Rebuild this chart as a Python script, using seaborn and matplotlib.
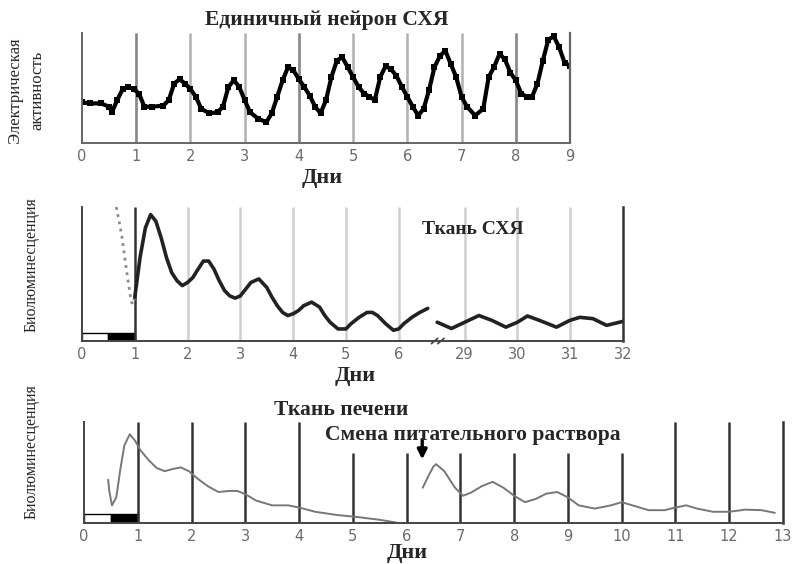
import matplotlib
matplotlib.use("Agg")
import matplotlib.pyplot as plt
import seaborn as sns
import numpy as np

# figure size in pixels
W, H = 795, 564

# single SCN neuron, electrical activity (relative units, axis = 0, top = 1)
neuron_days = [0, 0.15, 0.35, 0.5, 0.55, 0.65, 0.75, 0.85, 0.95,
               1.05, 1.15, 1.3, 1.5, 1.6, 1.7, 1.8, 1.9,
               2.0, 2.1, 2.2, 2.35, 2.5, 2.6, 2.7, 2.8, 2.9,
               3.0, 3.1, 3.25, 3.4, 3.5, 3.6, 3.7, 3.8, 3.9,
               4.0, 4.1, 4.2, 4.3, 4.4, 4.5, 4.6, 4.7, 4.8, 4.9,
               5.0, 5.1, 5.2, 5.3, 5.4, 5.5, 5.6, 5.7, 5.8, 5.9,
               6.0, 6.1, 6.2, 6.3, 6.4, 6.5, 6.6, 6.7, 6.8, 6.9,
               7.0, 7.1, 7.25, 7.4, 7.5, 7.6, 7.7, 7.8, 7.9,
               8.0, 8.1, 8.2, 8.3, 8.4, 8.5, 8.6, 8.7, 8.8, 8.9, 9.0]
neuron_activity = [0.37, 0.36, 0.36, 0.33, 0.28, 0.39, 0.49, 0.51, 0.49,
                   0.45, 0.33, 0.33, 0.34, 0.39, 0.54, 0.58, 0.54,
                   0.49, 0.42, 0.31, 0.27, 0.28, 0.33, 0.51, 0.57, 0.51,
                   0.39, 0.28, 0.22, 0.19, 0.27, 0.42, 0.57, 0.69, 0.66,
                   0.58, 0.51, 0.43, 0.33, 0.27, 0.39, 0.60, 0.75, 0.78, 0.69,
                   0.60, 0.51, 0.45, 0.42, 0.39, 0.60, 0.70, 0.67, 0.61, 0.51,
                   0.42, 0.33, 0.25, 0.31, 0.48, 0.69, 0.79, 0.84, 0.72, 0.60,
                   0.42, 0.33, 0.25, 0.31, 0.60, 0.69, 0.81, 0.76, 0.64,
                   0.57, 0.45, 0.42, 0.42, 0.54, 0.75, 0.94, 0.97, 0.87, 0.73, 0.70]
neuron_ticks = list(range(10))
neuron_lines = [1, 2, 3, 4, 5, 6, 7, 8]
neuron_dark_lines = [1, 4, 8]

# SCN tissue bioluminescence
scn_pre_days = [0.65, 0.75, 0.85, 0.93, 0.96, 1.0]
scn_pre_vals = [3.5, 2.89, 2.03, 1.40, 1.32, 1.48]
scn_days = [1.0, 1.1, 1.2, 1.3, 1.4, 1.5, 1.6, 1.7, 1.8, 1.9,
            2.0, 2.1, 2.2, 2.3, 2.4, 2.5, 2.6, 2.7, 2.8, 2.9,
            3.0, 3.1, 3.2, 3.35, 3.5, 3.6, 3.7, 3.8, 3.9,
            4.0, 4.1, 4.2, 4.35, 4.5, 4.6, 4.7, 4.85,
            5.0, 5.1, 5.25, 5.4, 5.5, 5.6, 5.75, 5.9,
            6.0, 6.1, 6.25, 6.4, 6.55]
scn_vals = [1.48, 2.37, 3.03, 3.33, 3.18, 2.81, 2.37, 2.03, 1.85, 1.74,
            1.81, 1.92, 2.11, 2.29, 2.29, 2.11, 1.85, 1.63, 1.51, 1.46,
            1.51, 1.66, 1.81, 1.89, 1.70, 1.48, 1.29, 1.14, 1.07,
            1.11, 1.18, 1.29, 1.37, 1.26, 1.07, 0.92, 0.77,
            0.77, 0.89, 1.03, 1.14, 1.14, 1.07, 0.89, 0.74,
            0.77, 0.89, 1.03, 1.14, 1.23]
scn_late_days = [28.48, 28.75, 29.0, 29.27, 29.52, 29.78, 30.0, 30.19, 30.42,
                 30.74, 30.99, 31.18, 31.43, 31.69, 32.0]
scn_late_vals = [0.92, 0.78, 0.92, 1.07, 0.96, 0.81, 0.92, 1.06, 0.96,
                 0.81, 0.96, 1.03, 1.0, 0.85, 0.94]
scn_ticks = [0, 1, 2, 3, 4, 5, 6, 29, 30, 31, 32]
scn_light_lines = [2, 3, 4, 5, 6, 29, 30, 31]
scn_gap = 21.75  # days cut out of the SCN axis

# liver tissue bioluminescence
liver_days = [0.45, 0.47, 0.52, 0.6, 0.68, 0.75, 0.85, 0.95, 1.05, 1.2, 1.35,
              1.5, 1.65, 1.8, 1.95, 2.1, 2.3, 2.5, 2.7, 2.85, 3.0, 3.2, 3.5,
              3.8, 4.0, 4.3, 4.7, 5.1, 5.5, 5.8]
liver_vals = [1.22, 1.01, 0.74, 0.89, 1.44, 1.86, 2.07, 1.95, 1.77, 1.59, 1.44,
              1.38, 1.42, 1.45, 1.38, 1.25, 1.10, 0.99, 1.01, 1.01, 0.95, 0.83, 0.74,
              0.74, 0.70, 0.62, 0.56, 0.52, 0.47, 0.42]
liver_new_days = [6.3, 6.4, 6.5, 6.55, 6.7, 6.9, 7.05, 7.2, 7.4, 7.6, 7.8, 8.0,
                  8.2, 8.4, 8.6, 8.8, 9.0, 9.2, 9.5, 9.8, 10.0, 10.2, 10.5,
                  10.8, 11.0, 11.2, 11.4, 11.7, 12.0, 12.3, 12.6, 12.85]
liver_new_vals = [1.07, 1.28, 1.47, 1.51, 1.38, 1.07, 0.92, 0.98, 1.10, 1.18, 1.07, 0.92,
                  0.80, 0.86, 0.96, 0.99, 0.89, 0.74, 0.68, 0.74, 0.80, 0.74, 0.65,
                  0.65, 0.70, 0.74, 0.68, 0.62, 0.62, 0.66, 0.65, 0.60]
liver_ticks = list(range(14))
liver_full_lines = [1, 2, 3, 4, 11, 12]
liver_short_lines = [5, 6, 7, 8, 9, 10]
medium_change_day = 6.29

# light / dark bar (days)
ld_start = [0, 0.5]
ld_colors = ["white", "black"]

sns.set_style("white")
plt.rcParams["font.family"] = ["DejaVu Sans"]
SERIF = "Liberation Serif"


def rect(left, top, right, bottom):
    return [left / W, 1 - bottom / H, (right - left) / W, (bottom - top) / H]


def style_axis(ax, spine_col="#444"):
    for s in ["top", "right"]:
        ax.spines[s].set_visible(False)
    for s in ["left", "bottom"]:
        ax.spines[s].set_color(spine_col)
        ax.spines[s].set_linewidth(1.4)
    ax.tick_params(axis="x", which="major", direction="in", length=4, width=1.2,
                   color=spine_col, labelcolor="#6a6a6a", labelsize=10.5, pad=4)
    ax.tick_params(axis="x", which="minor", direction="in", length=3, width=1.2, color=spine_col)
    ax.set_xlabel("")
    ax.set_ylabel("")


def ftext(x, y, s, size=15.5, **kw):
    fig.text(x / W, 1 - y / H, s, ha="center", va="center", fontsize=size,
             family=SERIF, **kw)


fig = plt.figure(figsize=(W / 100, H / 100), dpi=100)

# ---- panel 1: single neuron
ax1 = fig.add_axes(rect(82, 33, 570, 143))
ax1.vlines(neuron_lines, 0, 1, color="#b0b0b0", lw=1.8)
ax1.vlines(neuron_dark_lines, 0, 1, color="#8a8a8a", lw=1.8)
sns.lineplot(x=neuron_days, y=neuron_activity, ax=ax1, color="black", lw=3.0,
             marker="s", markersize=4, markeredgewidth=0)
ax1.set_xlim(0, 9)
ax1.set_ylim(0, 1)
style_axis(ax1, "#666")
ax1.spines["right"].set_visible(True)
ax1.spines["right"].set_color("#666")
ax1.spines["right"].set_linewidth(1.6)
ax1.set_xticks(neuron_ticks)
ax1.set_xticks(np.arange(0.5, 9, 0.5), minor=True)
ax1.set_yticks([0.68])
ax1.set_yticklabels([])
ax1.tick_params(axis="y", direction="in", length=5, color="#888")

# ---- panel 2: SCN tissue
ax2 = fig.add_axes(rect(82, 207, 623, 341))
late_x = [d - scn_gap for d in scn_late_days]
tick_pos = [t if t < 20 else t - scn_gap for t in scn_ticks]
light_pos = [t if t < 20 else t - scn_gap for t in scn_light_lines]
ax2.vlines(light_pos, 0.5, 3.5, color="#cfcfcf", lw=1.8)
ax2.vlines([1], 0.5, 3.5, color="#333", lw=1.8)
ax2.bar(ld_start, 0.18, width=0.5, bottom=0.5, align="edge",
        color=ld_colors, edgecolor="black", lw=1)
sns.lineplot(x=scn_pre_days, y=scn_pre_vals, ax=ax2, color="#8a8a8a", lw=2, ls=":")
sns.lineplot(x=scn_days, y=scn_vals, ax=ax2, color="#222", lw=2.6)
sns.lineplot(x=late_x, y=scn_late_vals, ax=ax2, color="#222", lw=2.6)
ax2.set_xlim(0, 32 - scn_gap)
ax2.set_ylim(0.5, 3.5)
style_axis(ax2)
ax2.spines["right"].set_visible(True)
ax2.spines["right"].set_color("#333")
ax2.spines["right"].set_linewidth(1.8)
ax2.set_xticks(tick_pos)
ax2.set_xticklabels([str(t) for t in scn_ticks])
ax2.set_xticks([p + 0.5 for p in tick_pos if p + 0.5 < 32 - scn_gap and abs(p - 6) > 0.1],
               minor=True)
ax2.set_yticks([1, 2, 3])
ax2.set_yticklabels([])
ax2.tick_params(axis="y", direction="out", length=5, color="#444")
# axis break marks
brk = 6.68
for dx in (0, 0.12):
    ax2.plot([brk + dx - 0.06, brk + dx + 0.06], [0.44, 0.56], color="#444",
             lw=1.2, clip_on=False)

# ---- panel 3: liver tissue
ax3 = fig.add_axes(rect(84, 422, 783, 523))
ax3.vlines(liver_full_lines, 0.41, 2.3, color="#333", lw=1.8)
ax3.vlines(liver_short_lines, 0.41, 1.72, color="#333", lw=1.8)
ax3.bar(ld_start, 0.17, width=0.5, bottom=0.41, align="edge",
        color=ld_colors, edgecolor="black", lw=1)
sns.lineplot(x=liver_days, y=liver_vals, ax=ax3, color="#777", lw=1.4)
sns.lineplot(x=liver_new_days, y=liver_new_vals, ax=ax3, color="#777", lw=1.4)
ax3.set_xlim(0, 13)
ax3.set_ylim(0.41, 2.3)
style_axis(ax3)
ax3.spines["right"].set_visible(True)
ax3.spines["right"].set_color("#333")
ax3.spines["right"].set_linewidth(1.8)
ax3.set_xticks(liver_ticks)
ax3.set_xticks(np.arange(0.5, 13, 0.5), minor=True)
ax3.set_yticks([1, 2])
ax3.set_yticklabels([])
ax3.tick_params(axis="y", direction="out", length=5, color="#444")
ax3.annotate("", xy=(medium_change_day, 1.6), xytext=(medium_change_day, 1.97),
             arrowprops=dict(arrowstyle="-|>", color="black", lw=2.4, mutation_scale=14,
                             shrinkA=0, shrinkB=0),
             annotation_clip=False)

# ---- texts
ftext(327, 20, "Единичный нейрон СХЯ", weight="bold")
ftext(473, 230, "Ткань СХЯ", size=14, weight="bold")
ftext(341, 410, "Ткань печени", weight="bold")
ftext(473, 435, "Смена питательного раствора", weight="bold")
ftext(322, 178, "Дни", size=16, weight="bold")
ftext(355, 376, "Дни", size=16, weight="bold")
ftext(407, 553, "Дни", size=16, weight="bold")
ftext(26, 90, "Электрическая\nактивность", size=12, rotation=90, linespacing=1.5)
ftext(32, 265, "Биолюминесценция", size=11.5, rotation=90)
ftext(32, 452, "Биолюминесценция", size=11.5, rotation=90)

fig.savefig("out.png", dpi=100)
